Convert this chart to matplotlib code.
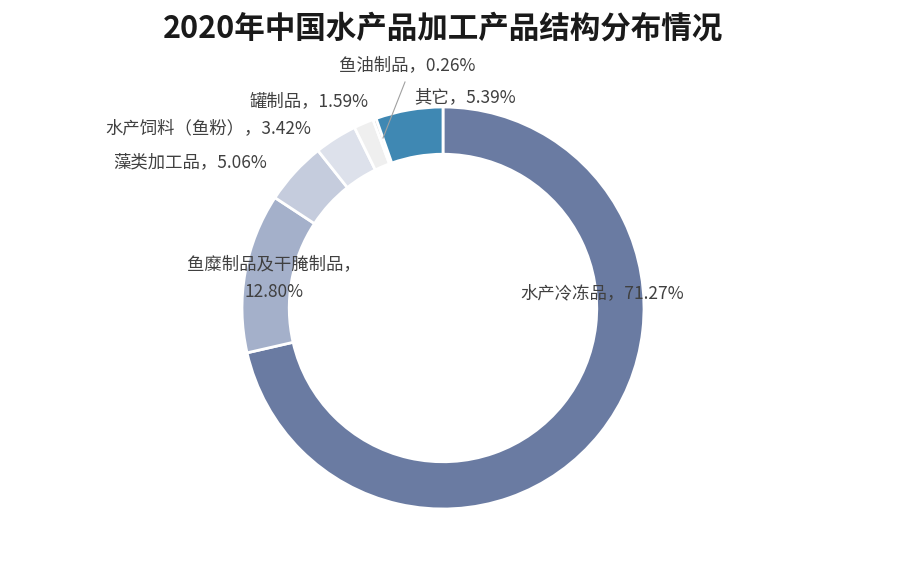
import matplotlib
matplotlib.use("Agg")
import matplotlib.pyplot as plt

plt.rcParams['font.family'] = ['Noto Sans CJK SC', 'DejaVu Sans']

# data
labels = ["水产冷冻品", "鱼糜制品及干腌制品", "藻类加工品", "水产饲料（鱼粉）",
          "罐制品", "鱼油制品", "其它"]
shares = [71.27, 12.80, 5.06, 3.42, 1.59, 0.26, 5.39]
colors = ["#6A7BA2", "#A4B0CA", "#C5CCDD", "#DDE1EB", "#EFEFEF", "#D0D0D0", "#3F88B3"]

W, H = 911, 573
cx, cy, R = 443, 308, 201
fig = plt.figure(figsize=(W / 100, H / 100), dpi=100)
half = 260
ax = fig.add_axes([(cx - half) / W, (H - cy - half) / H, 2 * half / W, 2 * half / H])

ax.pie(shares, colors=colors, startangle=90, counterclock=False, radius=1,
       wedgeprops=dict(width=0.235, edgecolor='white', linewidth=2))

# pie() resets the limits, so set them afterwards
ax.set_xlim(-half / R, half / R)
ax.set_ylim(-half / R, half / R)
ax.set_aspect('equal')
ax.axis('off')


def px(x, y):
    # pixel position -> data coords
    return (x - cx) / R, (cy - y) / R


txt = dict(fontsize=12.5, color='#404040', va='center')
label_pos = {
    0: (602, 293),
    1: (274, 278),
    2: (190, 162),
    3: (208, 128),
    4: (309, 101),
    5: (407, 65),
    6: (465, 97),
}
for i, (x, y) in label_pos.items():
    if i == 1:
        s = f"{labels[i]}，\n{shares[i]:.2f}%"
    else:
        s = f"{labels[i]}，{shares[i]:.2f}%"
    ax.text(*px(x, y), s, ha='center', multialignment='center', linespacing=1.75, **txt)

# leader line for the tiny slice
x0, y0 = px(405, 82)
x1, y1 = px(383, 138)
ax.plot([x0, x1], [y0, y1], color='#A0A0A0', lw=0.8)

fig.text(cx / W, 1 - 29 / H, "2020年中国水产品加工产品结构分布情况",
         ha='center', va='center', fontsize=22, fontweight='bold', color='#1A1A1A')

fig.savefig("out.png", dpi=100)
